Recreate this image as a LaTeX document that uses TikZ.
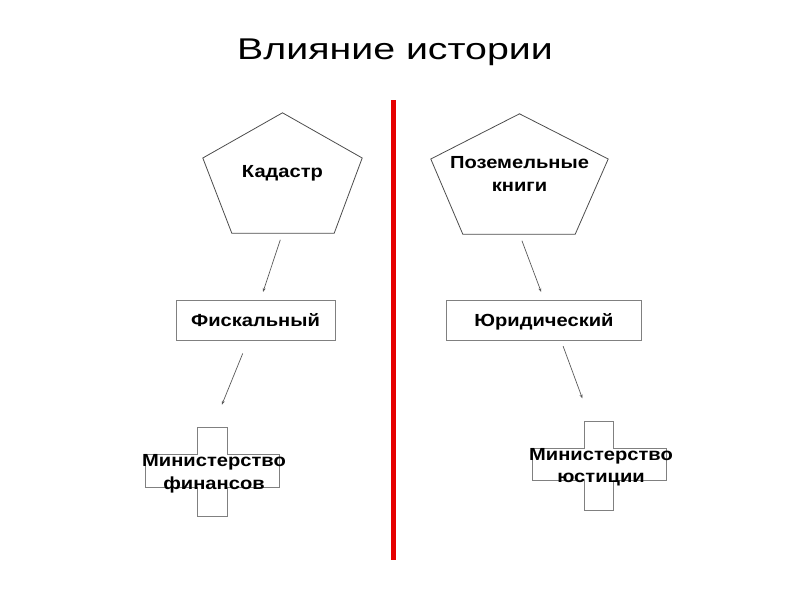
\documentclass[tikz,border=0pt]{standalone}
\usepackage{fontspec}
\setmainfont{Liberation Sans}
\newfontfamily\fonttitolo[FakeStretch=1.31]{Liberation Sans}
\newfontfamily\fontetichetta[FakeStretch=1.15]{Liberation Sans}
\usetikzlibrary{arrows.meta}
\definecolor{rosso}{RGB}{230,0,0}

\begin{document}
\begin{tikzpicture}[
        % Assi in pixel, y verso il basso
        x={(1pt,0pt)}, y={(0pt,-1pt)},
        % Stili dei nodi e delle linee
        titolo/.style={font=\fonttitolo\fontsize{30}{36}\selectfont},
        testo/.style={font=\fontetichetta\fontsize{17.5}{22.5}\selectfont\bfseries},
        area/.style={testo, minimum height=120pt, inner sep=0pt, align=center},
        contorno/.style={draw=black!70, line width=0.8pt, line join=miter},
        scatola/.style={testo, draw=black!50, line width=1pt, minimum height=40pt, text height=14.5pt, text depth=1.5pt},
        barra/.style={inner sep=0pt},
        croce/.style={draw=black!50, line width=0.8pt},
        etichetta/.style={testo, align=center, inner sep=0pt},
        freccia/.style={draw=black!65, line width=0.7pt, -{Stealth[length=4pt,width=3pt]}},
        divisore/.style={draw=rosso, line width=5pt}
    ]
    \useasboundingbox (0,0) rectangle (800,600);

    % Titolo
    \node[titolo] (titolo) at (395,52) {Влияние истории};

    % Linea divisoria
    \coordinate (div-alto) at (393,100);
    \coordinate (div-basso) at (393,560);
    \draw[divisore] (div-alto) -- (div-basso);

    % ==============================
    % 1. LATO SINISTRO
    % ==============================
    \node[area, minimum width=159pt] (kad) at (282.5,173) {Кадастр};
    \draw[contorno] (kad.north) -- ([yshift=15pt]kad.east) -- ([xshift=-28pt]kad.south east)
        -- ([xshift=29pt]kad.south west) -- ([yshift=15pt]kad.west) -- cycle;

    \node[scatola, minimum width=159pt] (fisc) at (255.5,320) {Фискальный};

    % Croce del ministero
    \node[barra, minimum width=29pt, minimum height=88pt] (minfin-v) at (212.5,472) {};
    \node[barra, minimum width=133pt, minimum height=32pt] (minfin-h) at (212.5,471) {};
    \draw[croce] (minfin-v.north west) -- (minfin-v.north east) -- (minfin-v.east |- minfin-h.north)
        -- (minfin-h.north east) -- (minfin-h.south east) -- (minfin-v.east |- minfin-h.south)
        -- (minfin-v.south east) -- (minfin-v.south west) -- (minfin-v.west |- minfin-h.south)
        -- (minfin-h.south west) -- (minfin-h.north west) -- (minfin-v.west |- minfin-h.north) -- cycle;
    \node[etichetta] (minfin) at (214,474) {Министерство\\финансов};

    % Frecce
    \draw[freccia, shorten <=7pt, shorten >=8pt] (kad.south) -- ([xshift=5pt]fisc.north);
    \draw[freccia, shorten <=14pt, shorten >=25pt] ([xshift=-7.5pt]fisc.south) -- (minfin-v.north);

    % ==============================
    % 2. LATO DESTRO
    % ==============================
    \node[area, minimum width=177pt] (poz) at (519.5,174) {Поземельные\\книги};
    \draw[contorno] (poz.north) -- ([yshift=15pt]poz.east) -- ([xshift=-33pt]poz.south east)
        -- ([xshift=32pt]poz.south west) -- ([yshift=15pt]poz.west) -- cycle;

    \node[scatola, minimum width=195pt] (yur) at (544,320) {Юридический};

    % Croce del ministero
    \node[barra, minimum width=28pt, minimum height=88pt] (minjust-v) at (599,466) {};
    \node[barra, minimum width=133pt, minimum height=31pt] (minjust-h) at (599.5,464.5) {};
    \draw[croce] (minjust-v.north west) -- (minjust-v.north east) -- (minjust-v.east |- minjust-h.north)
        -- (minjust-h.north east) -- (minjust-h.south east) -- (minjust-v.east |- minjust-h.south)
        -- (minjust-v.south east) -- (minjust-v.south west) -- (minjust-v.west |- minjust-h.south)
        -- (minjust-h.south west) -- (minjust-h.north west) -- (minjust-v.west |- minjust-h.north) -- cycle;
    \node[etichetta] (minjust) at (601,467) {Министерство\\юстиции};

    % Frecce
    \draw[freccia, shorten <=7pt, shorten >=8pt] (poz.south) -- (yur.north);
    \draw[freccia, shorten <=6pt, shorten >=25pt] ([xshift=17pt]yur.south) -- ([xshift=-8pt]minjust-v.north);

\end{tikzpicture}
\end{document}
